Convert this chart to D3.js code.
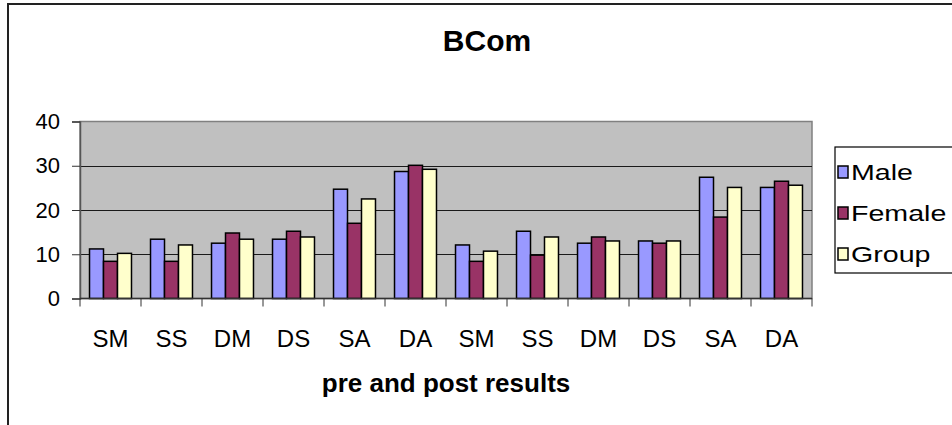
<!DOCTYPE html>
<html>
<head>
<meta charset="utf-8">
<script src="https://cdn.jsdelivr.net/npm/d3@7"></script>
<style>
  html, body { margin: 0; padding: 0; background: #fff; }
  svg { display: block; font-family: Arial, "Liberation Sans", sans-serif; }
</style>
</head>
<body>
<svg id="chart" width="952" height="425"></svg>
<script>
const categories = ["SM", "SS", "DM", "DS", "SA", "DA", "SM", "SS", "DM", "DS", "SA", "DA"];
const seriesNames = ["Male", "Female", "Group"];
const maleValues   = [11.2, 13.4, 12.5, 13.4, 24.7, 28.7, 12.1, 15.2, 12.5, 13.0, 27.4, 25.1];
const femaleValues = [8.4, 8.4, 14.8, 15.2, 17.0, 30.1, 8.4, 9.8, 13.9, 12.5, 18.4, 26.5];
const groupValues  = [10.2, 12.1, 13.4, 13.9, 22.5, 29.2, 10.7, 13.9, 13.0, 13.0, 25.1, 25.6];
const yTicks = [0, 10, 20, 30, 40];
const colors = ["#9999FF", "#993366", "#FFFFCC"];
const titleText = "BCom";
const xTitleText = "pre and post results";

const seriesValues = [maleValues, femaleValues, groupValues];
const svg = d3.select("#chart");

// outer chart border
svg.append("rect").attr("x", 8).attr("y", 4).attr("width", 960).attr("height", 440)
  .attr("fill", "#fff").attr("stroke", "#222").attr("stroke-width", 2);

const plot = { left: 80, right: 812, top: 121.5, bottom: 298.5 };

const x0 = d3.scaleBand().domain(d3.range(categories.length))
  .range([plot.left, plot.right]).paddingInner(0).paddingOuter(0);
const x1 = d3.scaleBand().domain(seriesNames)
  .range([0, x0.bandwidth()]).paddingInner(0).paddingOuter(0.68);
const y = d3.scaleLinear().domain([0, 40]).range([plot.bottom, plot.top]);

// plot background
svg.append("rect").attr("x", plot.left).attr("y", plot.top)
  .attr("width", plot.right - plot.left).attr("height", plot.bottom - plot.top)
  .attr("fill", "#C0C0C0").attr("stroke", "#808080").attr("stroke-width", 1.5);

// gridlines
svg.append("g").selectAll("line").data(yTicks.filter(t => t > 0 && t < 40)).join("line")
  .attr("x1", plot.left).attr("x2", plot.right)
  .attr("y1", d => Math.round(y(d)) + 0.5).attr("y2", d => Math.round(y(d)) + 0.5)
  .attr("stroke", "#1a1a1a").attr("stroke-width", 1.2);

// bars
const groups = svg.append("g").selectAll("g").data(categories.map((c, i) => i)).join("g")
  .attr("transform", i => `translate(${x0(i)},0)`);
groups.selectAll("rect").data(i => seriesNames.map((s, k) => ({ s, k, v: seriesValues[k][i] }))).join("rect")
  .attr("x", d => x1(d.s)).attr("width", x1.bandwidth())
  .attr("y", d => y(d.v)).attr("height", d => y(0) - y(d.v))
  .attr("fill", d => colors[d.k]).attr("stroke", "#000").attr("stroke-width", 1.5);

// y axis
const yAxis = d3.axisLeft(y).tickValues(yTicks).tickSize(8).tickPadding(12).tickFormat(d3.format("d"));
const yg = svg.append("g").attr("transform", `translate(${plot.left},0)`).call(yAxis);
yg.select(".domain").attr("stroke", "#555").attr("stroke-width", 1.5);
yg.selectAll(".tick line").attr("stroke", "#333");
yg.selectAll("text").attr("font-size", 22).attr("fill", "#000")
  .attr("font-family", "Arial, 'Liberation Sans', sans-serif");

// x axis (category labels at band centers, ticks at band boundaries)
const xAxisLine = svg.append("g");
xAxisLine.append("line").attr("x1", plot.left).attr("x2", plot.right)
  .attr("y1", plot.bottom).attr("y2", plot.bottom).attr("stroke", "#333").attr("stroke-width", 1.5);
xAxisLine.selectAll("line.tk").data(d3.range(categories.length + 1)).join("line").attr("class", "tk")
  .attr("x1", i => i < categories.length ? x0(i) : plot.right)
  .attr("x2", i => i < categories.length ? x0(i) : plot.right)
  .attr("y1", plot.bottom).attr("y2", plot.bottom + 8).attr("stroke", "#333").attr("stroke-width", 1);
xAxisLine.selectAll("text").data(categories.map((c, i) => ({ c, i }))).join("text")
  .attr("x", d => x0(d.i) + x0.bandwidth() / 2).attr("y", 347)
  .attr("text-anchor", "middle").attr("font-size", 24).attr("fill", "#000").text(d => d.c);

// titles
svg.append("text").attr("x", 487).attr("y", 51).attr("text-anchor", "middle")
  .attr("font-size", 30).attr("font-weight", "bold").text(titleText);
svg.append("text").attr("x", (plot.left + plot.right) / 2).attr("y", 392).attr("text-anchor", "middle")
  .attr("font-size", 26).attr("font-weight", "bold").text(xTitleText);

// legend
const lg = svg.append("g");
lg.append("rect").attr("x", 835).attr("y", 147).attr("width", 140).attr("height", 126)
  .attr("fill", "#fff").attr("stroke", "#000").attr("stroke-width", 1.2);
const legendY = [172, 213, 254];
const items = lg.selectAll("g.item").data(seriesNames.map((s, k) => ({ s, k }))).join("g").attr("class", "item")
  .attr("transform", d => `translate(838,${legendY[d.k]})`);
items.append("rect").attr("x", 0).attr("y", -6).attr("width", 10).attr("height", 12)
  .attr("fill", d => colors[d.k]).attr("stroke", "#000").attr("stroke-width", 1.5);
items.append("text").attr("transform", "translate(13,8) scale(1.3,1)")
  .attr("font-size", 22).attr("fill", "#000").text(d => d.s);
</script>
</body>
</html>
